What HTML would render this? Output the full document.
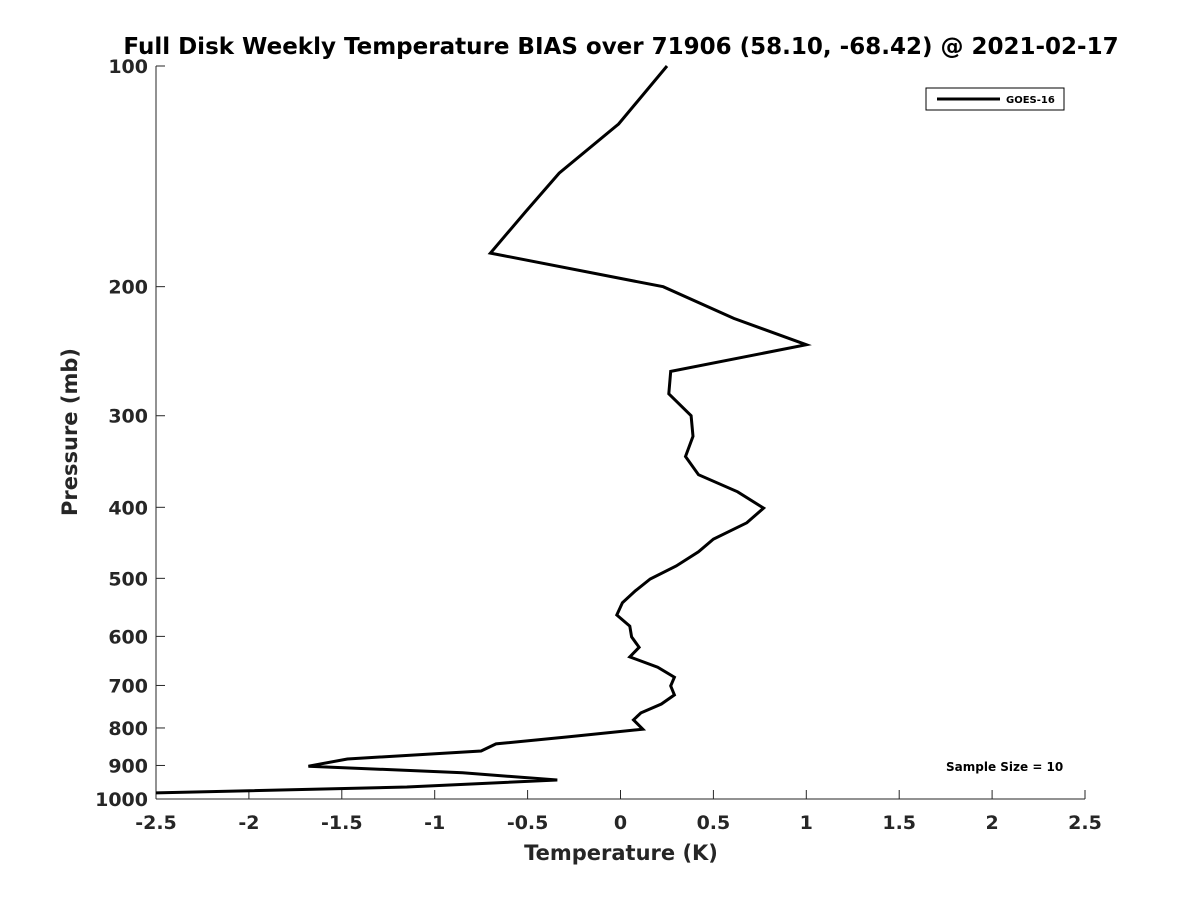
<!DOCTYPE html>
<html><head><meta charset="utf-8"><style>
html,body{margin:0;padding:0;background:#fff;}
svg text{font-family:"DejaVu Sans","Liberation Sans",sans-serif;font-weight:bold;fill:#262626;}
</style></head><body>
<svg id="chart" width="1200" height="900" xmlns="http://www.w3.org/2000/svg">
<text x="621" y="54" font-size="23" text-anchor="middle" style="fill:#000">Full Disk Weekly Temperature BIAS over 71906 (58.10, -68.42) @ 2021-02-17</text>
<g id="axes"></g>
<g id="series"></g>
<text x="621" y="860" font-size="21" text-anchor="middle">Temperature (K)</text>
<text transform="translate(77,432) rotate(-90)" font-size="21" text-anchor="middle">Pressure (mb)</text>
<g>
<rect x="926" y="88" width="138" height="22" fill="#fff" stroke="#000" stroke-width="1"/>
<line x1="937" y1="99" x2="1000" y2="99" stroke="#000" stroke-width="3"/>
<text x="1006" y="103" font-size="10" style="fill:#000">GOES-16</text>
</g>
<text x="946" y="771" font-size="12" style="fill:#000">Sample Size = 10</text>
</svg>
<script>
const xTicks=[-2.5,-2,-1.5,-1,-0.5,0,0.5,1,1.5,2,2.5];
const xTickLabels=["-2.5","-2","-1.5","-1","-0.5","0","0.5","1","1.5","2","2.5"];
const yTicks=[100,200,300,400,500,600,700,800,900,1000];
const pressure=[100,120,140,158,180,200,221,240,261,280,300,320,341,361,381,401,420,442,460,481,501,520,540,561,581,601,621,640,661,682,701,721,742,763,780,803,823,841,860,882,902,921,942,963,981];
const bias=[0.25,-0.01,-0.33,-0.51,-0.70,0.23,0.61,1.0,0.27,0.26,0.38,0.39,0.35,0.42,0.63,0.77,0.68,0.50,0.42,0.30,0.16,0.08,0.01,-0.02,0.05,0.06,0.10,0.05,0.20,0.29,0.27,0.29,0.22,0.11,0.07,0.12,-0.29,-0.67,-0.75,-1.47,-1.68,-0.85,-0.34,-1.15,-2.5];
const L=156,R=1085,T=66,B=799;
const xs=v=>L+(v+2.5)/5*(R-L);
const ys=p=>T+Math.log10(p/100)*(B-T);
const NS="http://www.w3.org/2000/svg";
const ax=document.getElementById('axes');
function mk(t,a,parent){const e=document.createElementNS(NS,t);for(const k in a)e.setAttribute(k,a[k]);parent.appendChild(e);return e;}
const xl=mk('line',{x1:L,y1:B,x2:R,y2:B,stroke:'#262626','stroke-width':1},ax);


const yl=mk('line',{x1:L,y1:T,x2:L,y2:B,stroke:'#262626','stroke-width':1},ax);


xTicks.forEach((v,i)=>{const x=xs(v);
mk('line',{x1:x,y1:B,x2:x,y2:B-9,stroke:'#262626'},ax);
const t=mk('text',{x:x,y:829,'font-size':19,'text-anchor':'middle'},ax);t.textContent=xTickLabels[i];

});
yTicks.forEach(p=>{const y=ys(p);
mk('line',{x1:L,y1:y,x2:L+9,y2:y,stroke:'#262626'},ax);
const t=mk('text',{x:148,y:y+7,'font-size':19,'text-anchor':'end'},ax);t.textContent=p;

});
const pts=pressure.map((p,i)=>xs(bias[i]).toFixed(1)+','+ys(p).toFixed(1)).join(' ');
const pl=mk('polyline',{points:pts,fill:'none',stroke:'#000','stroke-width':3,'stroke-linejoin':'miter'},document.getElementById('series'));


</script>
</body></html>
